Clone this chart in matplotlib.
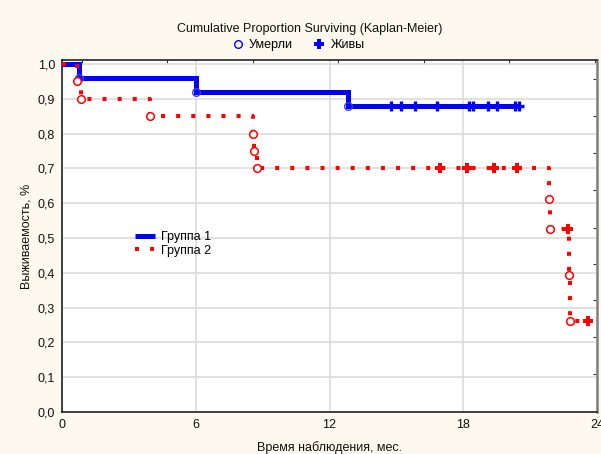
import matplotlib
matplotlib.use("Agg")
import matplotlib.pyplot as plt
from matplotlib.lines import Line2D

plt.rcParams["font.family"] = ["Liberation Sans", "DejaVu Sans"]

# Group 1: step curve (time, survival), deaths and censored observations
g1_step_t = [0.0, 0.75, 6.0, 12.85, 20.55]
g1_step_s = [1.0, 0.96, 0.92, 0.88, 0.88]
g1_death_t = [0.75, 6.0, 12.85]
g1_death_s = [0.96, 0.92, 0.88]
g1_cens_t = [14.75, 15.2, 15.85, 16.8, 18.25, 18.45, 19.1, 19.5, 20.3, 20.5]
g1_cens_s = [0.88] * len(g1_cens_t)

# Group 2
g2_step_t = [0.0, 0.66, 0.87, 3.96, 8.55, 8.6, 8.75, 21.86, 21.87, 22.76, 22.77, 23.58]
g2_step_s = [1.0, 0.95, 0.90, 0.85, 0.80, 0.75, 0.70, 0.6125, 0.525, 0.39375, 0.2625, 0.2625]
g2_death_t = [0.66, 0.87, 3.96, 8.57, 8.6, 8.75, 21.86, 21.87, 22.76, 22.77]
g2_death_s = [0.95, 0.90, 0.85, 0.80, 0.75, 0.70, 0.6125, 0.525, 0.39375, 0.2625]
g2_cens_t = [16.97, 18.17, 19.37, 20.41, 22.69, 23.58]
g2_cens_s = [0.70, 0.70, 0.70, 0.70, 0.525, 0.2625]

x_ticks = [0, 6, 12, 18, 24]
x_labels = ["0", "6", "12", "18", "24"]
y_ticks = [0.0, 0.1, 0.2, 0.3, 0.4, 0.5, 0.6, 0.7, 0.8, 0.9, 1.0]
y_labels = ["0,0", "0,1", "0,2", "0,3", "0,4", "0,5", "0,6", "0,7", "0,8", "0,9", "1,0"]
top_minor = [0.88, 4.72, 8.55, 12.4, 16.24, 20.07, 23.9]
right_minor = [0.956, 0.851, 0.745, 0.638, 0.530, 0.425, 0.322, 0.215, 0.109]

BLUE = "#0000ff"
RED = "#ff0000"
BG = "#fdf9ee"

fig = plt.figure(figsize=(6.01, 4.54), dpi=100, facecolor=BG)
ax = fig.add_axes([62 / 601, 1 - 412 / 454, 535 / 601, 352 / 454])
ax.set_facecolor("white")
ax.set_xlim(0, 24)
ax.set_ylim(0, 1.0115)

ax.grid(True, color="#dcdcdc", linewidth=1.2)
ax.set_axisbelow(True)

ax.set_xticks(x_ticks)
ax.set_xticklabels(x_labels)
ax.set_yticks(y_ticks)
ax.set_yticklabels(y_labels)
ax.tick_params(axis="both", length=0, labelsize=9, colors="#111111", pad=5)

for side in ["left", "bottom", "top"]:
    ax.spines[side].set_color("#111111")
    ax.spines[side].set_linewidth(1.1)
ax.spines["right"].set_color("#808080")
ax.spines["right"].set_linewidth(1.8)

sec_top = ax.secondary_xaxis("top")
sec_top.set_xticks(top_minor)
sec_top.set_xticklabels([])
sec_top.tick_params(direction="in", length=3, width=0.8, color="#333333")
sec_top.spines["top"].set_visible(False)

sec_right = ax.secondary_yaxis("right")
sec_right.set_yticks(right_minor)
sec_right.set_yticklabels([])
sec_right.tick_params(direction="in", length=3, width=0.8, color="#333333")
sec_right.spines["right"].set_visible(False)

# Group 1 curve
ax.plot(g1_step_t, g1_step_s, drawstyle="steps-post", color=BLUE, linewidth=3.6,
        solid_joinstyle="miter", solid_capstyle="butt", zorder=3)
ax.plot(g1_death_t, g1_death_s, linestyle="none", marker="o", markersize=5.5,
        markerfacecolor="none", markeredgecolor="#3c3cff", markeredgewidth=1.0, zorder=4)
ax.plot(g1_cens_t, g1_cens_s, linestyle="none", marker="+", markersize=7,
        markeredgewidth=2.4, color=BLUE, zorder=4)

# Group 2 curve
ax.plot(g2_step_t, g2_step_s, drawstyle="steps-post", color=RED, linewidth=2.9,
        linestyle=(0, (1, 2.75)), dash_capstyle="butt", zorder=3)
ax.plot(g2_death_t, g2_death_s, linestyle="none", marker="o", markersize=5.5,
        markerfacecolor="white", markeredgecolor=RED, markeredgewidth=1.1, zorder=4)
ax.plot(g2_cens_t, g2_cens_s, linestyle="none", marker="P", markersize=7,
        markeredgewidth=0, color=RED, zorder=4)

# Group legend inside the plot
grp_handles = [
    Line2D([], [], color=BLUE, linewidth=3.6, solid_capstyle="butt"),
    Line2D([], [], color=RED, linewidth=2.9, linestyle=(0, (1, 2.75)), dash_capstyle="butt"),
]
ax.legend(grp_handles, ["Группа 1", "Группа 2"], loc="center left",
          bbox_to_anchor=(0.125, 0.477), frameon=False, fontsize=9,
          handlelength=1.6, handletextpad=0.5, labelspacing=0.1, borderpad=0)

# Title and marker key above the plot
fig.text(310 / 601, 1 - 29 / 454, "Cumulative Proportion Surviving (Kaplan-Meier)",
         ha="center", va="center", fontsize=9, color="#111111")
key_handles = [
    Line2D([], [], linestyle="none", marker="o", markersize=5.5, markerfacecolor="none",
           markeredgecolor=BLUE, markeredgewidth=1.0),
    Line2D([], [], linestyle="none", marker="P", markersize=7, markeredgewidth=0, color=BLUE),
]
fig.legend(key_handles, ["Умерли", "Живы"], loc="center", ncol=2,
           bbox_to_anchor=(298 / 601, 1 - 45 / 454), frameon=False, fontsize=9,
           handlelength=1.0, handletextpad=0.4, columnspacing=1.6, borderpad=0)

ax.set_xlabel("Время наблюдения, мес.", fontsize=9, color="#111111", labelpad=7)
ax.set_ylabel("Выживаемость, %", fontsize=9, color="#111111", labelpad=4)

fig.savefig("out.png", dpi=100, facecolor=BG)
